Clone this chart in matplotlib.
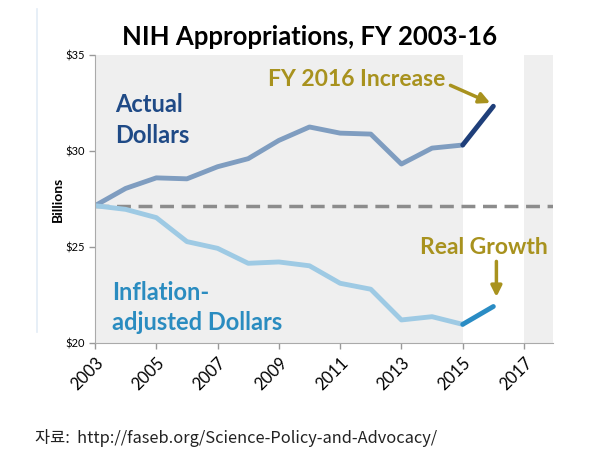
import matplotlib
matplotlib.use("Agg")
import matplotlib.pyplot as plt
from matplotlib.lines import Line2D

years = list(range(2003, 2017))
actual = [27.15, 28.05, 28.6, 28.55, 29.18, 29.6, 30.55, 31.25, 30.93, 30.88, 29.32, 30.15, 30.31, 32.33]
adjusted = [27.15, 26.96, 26.53, 25.28, 24.93, 24.15, 24.22, 24.02, 23.11, 22.8, 21.2, 21.37, 20.97, 21.9]
xticks = list(range(2003, 2018, 2))
yticks = [20, 25, 30, 35]
ylabels = ["$20", "$25", "$30", "$35"]
baseline = 27.15

plt.rcParams["font.family"] = ["Lato", "DejaVu Sans"]

fig = plt.figure(figsize=(5.96, 4.74), dpi=100)
ax = fig.add_axes([0.1594, 0.2764, 0.7686, 0.6076])

# faint border line on the left of the original slide
fig.add_artist(Line2D([0.062, 0.062], [0.30, 0.98], color="#e3ecf6", lw=1.2))

# shaded background (history and beyond 2017)
ax.axvspan(2003, 2015, color="#efefef", zorder=0, lw=0)
ax.axvspan(2017, 2018.5, color="#efefef", zorder=0, lw=0)

ax.axhline(baseline, color="#8c8c8c", lw=2.5, ls=(0, (4, 2.2)), zorder=1)

# lines: past years lighter, FY2016 step darker
ax.plot(years[:-1], actual[:-1], color="#7f9dc0", lw=3.5, solid_capstyle="round", zorder=2)
ax.plot(years[-2:], actual[-2:], color="#1f3f7a", lw=3.5, solid_capstyle="round", zorder=3)
ax.plot(years[:-1], adjusted[:-1], color="#9ecae4", lw=3.5, solid_capstyle="round", zorder=2)
ax.plot(years[-2:], adjusted[-2:], color="#2a8cc4", lw=3.5, solid_capstyle="round", zorder=3)

ax.set_xlim(2003, 2017.95)
ax.set_ylim(20, 35)
ax.set_xticks(xticks)
ax.set_xticklabels([str(x) for x in xticks], rotation=45, fontsize=12, ha="right",
                   rotation_mode="anchor")
ax.set_yticks(yticks)
ax.set_yticklabels(ylabels, fontsize=8)
ax.tick_params(axis="both", color="#999999", length=4, width=1)
ax.tick_params(axis="x", pad=4)
for s in ["top", "right"]:
    ax.spines[s].set_visible(False)
for s in ["left", "bottom"]:
    ax.spines[s].set_color("#aaaaaa")
ax.set_ylabel("Billions", fontsize=10, fontweight="bold", labelpad=1)

ax.text(2003.65, 31.6, "Actual\nDollars", color="#1f4a86", fontsize=17, fontweight="bold",
        linespacing=1.4, va="center", ha="left")
ax.text(2003.55, 21.85, "Inflation-\nadjusted Dollars", color="#2a8cc0", fontsize=17,
        fontweight="bold", linespacing=1.35, va="center", ha="left")

gold = "#a8921e"
ax.text(2014.42, 33.7, "FY 2016 Increase", color=gold, fontsize=16.5, fontweight="bold",
        ha="right", va="center")
ax.annotate("", xy=(2015.9, 32.5), xytext=(2014.6, 33.42),
            arrowprops=dict(arrowstyle="-|>", color=gold, lw=2.5, mutation_scale=16,
                            shrinkA=0, shrinkB=0))
ax.text(2015.68, 24.95, "Real Growth", color=gold, fontsize=16.5, fontweight="bold",
        ha="center", va="center")
ax.annotate("", xy=(2016.1, 22.4), xytext=(2016.1, 24.25),
            arrowprops=dict(arrowstyle="-|>", color=gold, lw=2.5, mutation_scale=16,
                            shrinkA=0, shrinkB=0))

fig.text(0.52, 0.922, "NIH Appropriations, FY 2003-16", fontsize=18.5, fontweight="bold",
         ha="center", va="center")
fig.text(0.058, 0.077, "자료:  http://faseb.org/Science-Policy-and-Advocacy/", fontsize=11.8,
         color="#222222", va="center", ha="left",
         family=["Noto Sans CJK KR", "DejaVu Sans"])

fig.savefig("out.png", dpi=100)
